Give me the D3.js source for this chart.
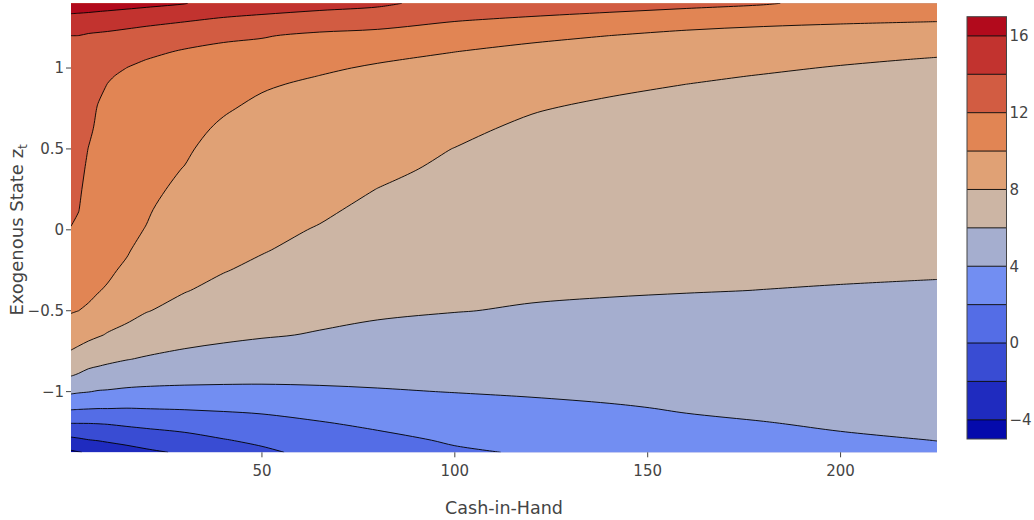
<!DOCTYPE html>
<html>
<head>
<meta charset="utf-8">
<script src="https://cdn.jsdelivr.net/npm/d3@7"></script>
<style>
  body { margin: 0; background: #fff; }
  svg { display: block; }
  text { font-family: "DejaVu Sans", verdana, sans-serif; fill: #444; }
</style>
</head>
<body>
<svg id="chart" width="1034" height="520"></svg>
<script>
// Cash-in-hand grid (columns) and exogenous state grid (rows, top to bottom)
const cashGrid = [0.5, 2.5, 5, 7.5, 10, 15, 20, 30, 40, 50, 65, 80, 100, 120, 140, 160, 180, 200, 225];
const stateGrid = [1.40, 1.3, 1.2, 1.1, 1.05, 1.0, 0.95, 0.9, 0.75, 0.625, 0.5, 0.375, 0.25, 0.125, 0,
  -0.125, -0.25, -0.375, -0.5, -0.65, -0.8, -0.9, -1.0, -1.1, -1.2, -1.3, -1.375];

// Surface values, one row per state, one entry per cash level
const zRows = [
  [16.9, 16.9, 16.9, 16.81, 16.74, 16.61, 16.45, 16.07, 15.17, 15.0, 14.67, 14.37, 13.19, 13.0, 12.78, 12.48, 12.14, 11.5, 11.05],
  [15.5, 15.43, 15.32, 15.23, 15.14, 14.91, 14.66, 14.18, 13.83, 13.55, 13.16, 12.75, 12.13, 11.77, 11.38, 10.98, 10.65, 10.22, 10.12],
  [14.0, 13.99, 13.8, 13.7, 13.6, 13.35, 13.1, 12.94, 12.2, 12.11, 11.67, 11.52, 11.08, 10.56, 10.0, 9.5, 9.16, 9.43, 9.21],
  [13.84, 13.81, 13.67, 13.4, 13.17, 12.76, 12.41, 11.8, 11.73, 11.45, 11.06, 10.62, 10.01, 9.33, 9.46, 9.19, 8.93, 8.64, 8.29],
  [13.75, 13.72, 13.53, 13.15, 12.85, 12.34, 11.98, 11.8, 11.51, 11.15, 10.67, 10.17, 9.57, 9.52, 9.19, 8.89, 8.59, 8.25, 7.86],
  [13.67, 13.63, 13.38, 12.91, 12.53, 11.98, 11.88, 11.66, 11.3, 10.85, 10.29, 9.76, 9.66, 9.29, 8.93, 8.59, 8.25, 7.88, 7.9],
  [13.58, 13.54, 13.24, 12.66, 12.21, 11.61, 11.78, 11.53, 11.08, 10.55, 9.97, 9.79, 9.49, 9.05, 8.66, 8.29, 7.92, 7.9, 7.83],
  [13.5, 13.45, 13.1, 12.42, 11.97, 11.81, 11.69, 11.39, 10.87, 10.25, 9.63, 9.66, 9.31, 8.82, 8.39, 8.0, 7.91, 7.83, 7.76],
  [13.25, 13.18, 12.67, 11.89, 11.73, 11.56, 11.39, 10.97, 10.22, 9.54, 9.54, 9.27, 8.8, 8.13, 7.65, 7.77, 7.68, 7.61, 7.54],
  [13.04, 12.95, 12.32, 11.69, 11.53, 11.35, 11.14, 10.62, 9.68, 9.55, 9.28, 8.95, 8.37, 7.67, 7.68, 7.58, 7.49, 7.42, 7.36],
  [12.83, 12.72, 11.97, 11.48, 11.33, 11.13, 10.9, 10.27, 9.2, 9.3, 9.01, 8.63, 7.97, 7.63, 7.48, 7.39, 7.31, 7.24, 7.18],
  [12.61, 12.49, 11.71, 11.27, 11.13, 10.92, 10.65, 9.93, 9.34, 9.06, 8.74, 8.3, 7.73, 7.42, 7.28, 7.19, 7.12, 7.06, 7.0],
  [12.4, 12.27, 11.45, 11.06, 10.93, 10.71, 10.4, 9.62, 9.09, 8.82, 8.47, 7.98, 7.48, 7.21, 7.09, 7.0, 6.93, 6.88, 6.82],
  [12.19, 12.04, 11.2, 10.86, 10.73, 10.49, 10.15, 9.31, 8.83, 8.57, 8.21, 7.68, 7.24, 7.0, 6.89, 6.81, 6.75, 6.69, 6.64],
  [11.96, 11.66, 10.94, 10.65, 10.53, 10.28, 9.95, 9.0, 8.58, 8.33, 7.91, 7.39, 7.0, 6.79, 6.69, 6.62, 6.56, 6.51, 6.46],
  [11.5, 11.24, 10.68, 10.44, 10.33, 10.07, 9.73, 8.69, 8.33, 8.09, 7.53, 7.09, 6.76, 6.58, 6.49, 6.43, 6.37, 6.33, 6.28],
  [11.04, 10.83, 10.42, 10.23, 10.12, 9.87, 8.95, 8.38, 8.07, 7.68, 7.16, 6.79, 6.52, 6.37, 6.29, 6.24, 6.18, 6.14, 6.1],
  [10.58, 10.42, 10.16, 10.03, 9.93, 8.98, 8.52, 8.07, 7.59, 7.2, 6.78, 6.5, 6.28, 6.16, 6.1, 6.04, 5.99, 5.94, 5.88],
  [10.13, 10.0, 9.9, 9.8, 8.89, 8.68, 8.08, 7.45, 7.01, 6.71, 6.4, 6.2, 6.04, 5.9, 5.8, 5.74, 5.69, 5.66, 5.63],
  [8.96, 8.71, 8.41, 8.14, 7.89, 7.36, 7.02, 6.58, 6.32, 6.13, 5.9, 5.67, 5.47, 5.38, 5.34, 5.33, 5.32, 5.33, 5.33],
  [7.42, 7.14, 6.77, 6.55, 6.35, 6.05, 5.84, 5.55, 5.35, 5.17, 5.02, 4.92, 4.86, 4.86, 4.88, 4.92, 4.95, 4.99, 5.03],
  [6.07, 5.83, 5.46, 5.3, 5.16, 4.93, 4.79, 4.64, 4.54, 4.47, 4.43, 4.42, 4.45, 4.51, 4.57, 4.64, 4.7, 4.77, 4.82],
  [4.29, 4.16, 4.05, 3.9, 3.85, 3.7, 3.63, 3.57, 3.57, 3.6, 3.73, 3.88, 4.04, 4.16, 4.26, 4.37, 4.45, 4.55, 4.62],
  [2.3, 2.23, 2.16, 2.1, 2.1, 2.04, 2.09, 2.17, 2.27, 2.4, 2.75, 3.09, 3.44, 3.7, 3.9, 4.09, 4.2, 4.32, 4.42],
  [-0.1, -0.09, -0.08, -0.03, 0.04, 0.26, 0.44, 0.74, 1.08, 1.35, 1.84, 2.31, 2.83, 3.15, 3.6, 3.82, 3.96, 4.1, 4.22],
  [-2.45, -2.28, -2.06, -1.93, -1.77, -1.46, -1.16, -0.69, -0.1, 0.37, 1.12, 1.52, 2.21, 2.59, 3.3, 3.55, 3.71, 3.88, 4.01],
  [-4.31, -4.07, -3.85, -3.4, -3.1, -2.74, -2.34, -1.74, -0.98, -0.36, 0.58, 0.93, 1.75, 2.17, 3.05, 3.35, 3.53, 3.71, 3.86]
];

// Contour levels and tick labels
const contourStart = -4, contourEnd = 16, contourSize = 2;
const xTicks = [50, 100, 150, 200];
const yTicks = [-1, -0.5, 0, 0.5, 1];
const colorbarTicks = [-4, 0, 4, 8, 12, 16];

// Red-blue diverging colour scale (low = blue, high = red)
const rdbuStops = [
  [0, "rgb(5,10,172)"], [0.35, "rgb(106,137,247)"], [0.5, "rgb(190,190,190)"],
  [0.6, "rgb(220,170,132)"], [0.7, "rgb(230,145,90)"], [1, "rgb(178,10,28)"]
];

const svg = d3.select("#chart");
const plot = { left: 71, right: 937, top: 3.3, bottom: 452.3 };

const x = d3.scaleLinear()
  .domain([cashGrid[0], cashGrid[cashGrid.length - 1]])
  .range([plot.left, plot.right]);
const y = d3.scaleLinear()
  .domain([stateGrid[stateGrid.length - 1], stateGrid[0]])
  .range([plot.bottom, plot.top]);

const levels = d3.range(contourStart, contourEnd + contourSize / 2, contourSize);
// colour range spans half a step beyond the first and last level
const cMin = contourStart - contourSize / 2;
const cMax = contourEnd + contourSize / 2;
const colorAt = d3.scaleLinear()
  .domain(rdbuStops.map(s => cMin + s[0] * (cMax - cMin)))
  .range(rdbuStops.map(s => s[1]))
  .interpolate(d3.interpolateRgb);
// band k: below first level for k = 0, between levels[k-1] and levels[k] otherwise
const bandColor = k => colorAt(cMin + k * contourSize);

// ---- contour geometry ----
const nx = cashGrid.length, ny = stateGrid.length;
const values = zRows.flat();
const contourSets = d3.contours().size([nx, ny]).thresholds(levels)(values);

function gridMap(arr) {
  const n = arr.length;
  return c => {
    const g = Math.max(0, Math.min(n - 1, c - 0.5));
    const i = Math.min(Math.floor(g), n - 2);
    const f = g - i;
    return arr[i] + f * (arr[i + 1] - arr[i]);
  };
}
const gx = gridMap(cashGrid), gy = gridMap(stateGrid);
const toPx = p => [x(gx(p[0])), y(gy(p[1]))];
const onBorder = p => p[0] === 0 || p[0] === nx || p[1] === 0 || p[1] === ny;

const openCurve = d3.line().curve(d3.curveCatmullRom.alpha(0.5));
const closedCurve = d3.line().curve(d3.curveCatmullRomClosed.alpha(0.5));

function ringPieces(ring) {
  let pts = ring.slice();
  const a = pts[0], b = pts[pts.length - 1];
  if (a[0] === b[0] && a[1] === b[1]) pts.pop();
  const start = pts.findIndex(onBorder);
  if (start < 0) return { closed: pts.map(toPx) };
  pts = pts.slice(start).concat(pts.slice(0, start));
  const pieces = [];
  for (const p of pts) {
    const bd = onBorder(p);
    const last = pieces[pieces.length - 1];
    if (last && last.border === bd) last.pts.push(toPx(p));
    else pieces.push({ border: bd, pts: [toPx(p)] });
  }
  return { pieces };
}

function fillPath(ring) {
  const r = ringPieces(ring);
  if (r.closed) return closedCurve(r.closed);
  let d = "";
  r.pieces.forEach((pc, k) => {
    const s = (pc.border || pc.pts.length < 2)
      ? "M" + pc.pts.map(p => p.join(",")).join("L")
      : openCurve(pc.pts);
    d += k === 0 ? s : "L" + s.slice(1);
  });
  return d + "Z";
}

function linePaths(ring) {
  const r = ringPieces(ring);
  if (r.closed) return [closedCurve(r.closed)];
  return r.pieces.filter(pc => !pc.border && pc.pts.length > 1).map(pc => openCurve(pc.pts));
}

// ---- plot area ----
svg.append("defs").append("clipPath").attr("id", "plotClip")
  .append("rect")
  .attr("x", plot.left).attr("y", plot.top)
  .attr("width", plot.right - plot.left).attr("height", plot.bottom - plot.top);

const area = svg.append("g").attr("clip-path", "url(#plotClip)");
area.append("rect")
  .attr("x", plot.left).attr("y", plot.top)
  .attr("width", plot.right - plot.left).attr("height", plot.bottom - plot.top)
  .attr("fill", bandColor(0));

contourSets.forEach((c, i) => {
  const d = c.coordinates.map(poly => poly.map(fillPath).join("")).join("");
  area.append("path").attr("d", d).attr("fill", bandColor(i + 1))
    .attr("fill-rule", "evenodd").attr("stroke", "none");
});

contourSets.forEach(c => {
  c.coordinates.forEach(poly => poly.forEach(ring => {
    linePaths(ring).forEach(d => {
      area.append("path").attr("d", d).attr("fill", "none")
        .attr("stroke", "#000").attr("stroke-width", 0.9);
    });
  }));
});

// ---- axes ----
const fmt = d3.format("~g");
const xAxis = svg.append("g");
xTicks.forEach(t => {
  xAxis.append("line").attr("x1", x(t)).attr("x2", x(t))
    .attr("y1", plot.bottom).attr("y2", plot.bottom + 5)
    .attr("stroke", "#444").attr("stroke-width", 1);
  xAxis.append("text").attr("x", x(t)).attr("y", plot.bottom + 24)
    .attr("text-anchor", "middle").attr("font-size", 15).text(fmt(t));
});
const yAxis = svg.append("g");
yTicks.forEach(t => {
  yAxis.append("line").attr("x1", plot.left - 5).attr("x2", plot.left)
    .attr("y1", y(t)).attr("y2", y(t))
    .attr("stroke", "#444").attr("stroke-width", 1);
  yAxis.append("text").attr("x", plot.left - 7).attr("y", y(t))
    .attr("dy", "0.36em").attr("text-anchor", "end").attr("font-size", 15).text(fmt(t));
});

svg.append("text").attr("x", (plot.left + plot.right) / 2).attr("y", 514)
  .attr("text-anchor", "middle").attr("font-size", 17.5).text("Cash-in-Hand");

const yTitle = svg.append("text")
  .attr("transform", `translate(23,${(plot.top + plot.bottom) / 2 + 2}) rotate(-90)`)
  .attr("text-anchor", "middle").attr("font-size", 18);
yTitle.append("tspan").text("Exogenous State z");
yTitle.append("tspan").attr("font-size", 12.5).attr("dy", 4).text("t");

// ---- colour bar ----
const cb = { left: 967, right: 1006.5, top: 16.7, bottom: 439 };
const cbScale = d3.scaleLinear().domain([cMin, cMax]).range([cb.bottom, cb.top]);
const cbBands = [cMin].concat(levels).concat([cMax]);
const cbG = svg.append("g");
for (let k = 0; k < cbBands.length - 1; k++) {
  cbG.append("rect")
    .attr("x", cb.left).attr("width", cb.right - cb.left)
    .attr("y", cbScale(cbBands[k + 1])).attr("height", cbScale(cbBands[k]) - cbScale(cbBands[k + 1]))
    .attr("fill", bandColor(k));
}
levels.forEach(v => {
  cbG.append("line").attr("x1", cb.left).attr("x2", cb.right)
    .attr("y1", cbScale(v)).attr("y2", cbScale(v))
    .attr("stroke", "#000").attr("stroke-width", 0.9);
});
cbG.append("rect")
  .attr("x", cb.left).attr("y", cb.top)
  .attr("width", cb.right - cb.left).attr("height", cb.bottom - cb.top)
  .attr("fill", "none").attr("stroke", "#444").attr("stroke-width", 1);
colorbarTicks.forEach(t => {
  cbG.append("text").attr("x", cb.right + 3).attr("y", cbScale(t))
    .attr("dy", "0.36em").attr("font-size", 15).text(fmt(t));
});
</script>
</body>
</html>
